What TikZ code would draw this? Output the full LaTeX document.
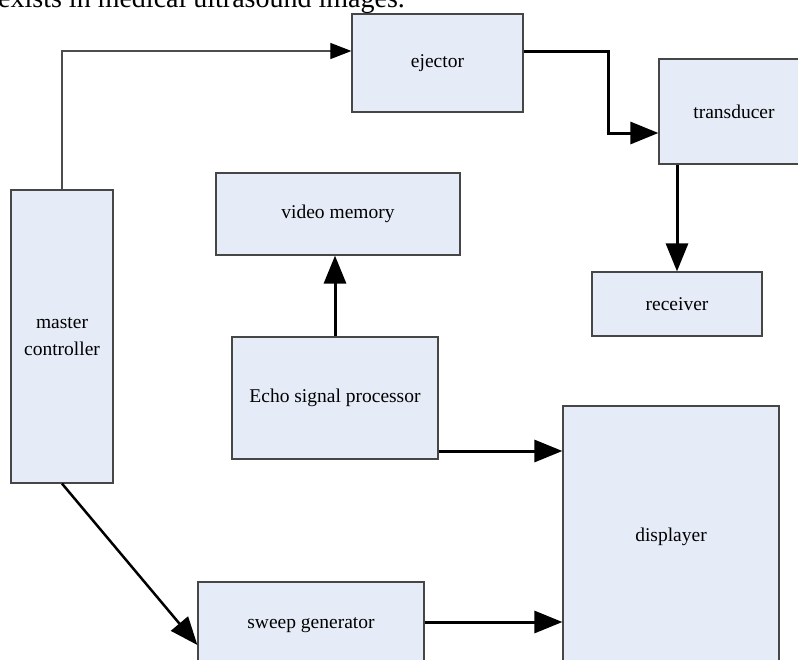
\documentclass[tikz,border=0pt]{standalone}
\usepackage{fontspec}
\setmainfont{Liberation Serif}
\usetikzlibrary{arrows.meta}
\definecolor{boxfill}{RGB}{230,236,247}
\definecolor{boxline}{RGB}{70,70,70}
\tikzset{
  blk/.style={draw=boxline, line width=1.2pt, fill=boxfill, inner sep=0pt,
    font=\fontsize{19.5}{27}\selectfont, align=center},
  thinarrow/.style={draw=black!70, line width=1.1pt, -{Triangle[length=21pt,width=16pt,color=black]}},
  thickarrow/.style={draw=black, line width=3pt, -{Triangle[length=28pt,width=22pt]}}
}
\begin{document}
\begin{tikzpicture}[x=1pt,y=-1pt]
\useasboundingbox (0,0) rectangle (798,659);
\clip (0,0) rectangle (798,659);
\node[anchor=base west, font=\fontsize{28}{32}\selectfont, inner sep=0pt] (top) at (-2,7) {exists in medical ultrasound images.};
\node[blk, minimum width=171pt, minimum height=98pt] (ej) at (437.5,63) {ejector};
\node[blk, minimum width=150pt, minimum height=105pt] (tr) at (734,111.5) {transducer};
\node[blk, minimum width=244pt, minimum height=82pt] (vm) at (338,214) {video memory};
\node[blk, minimum width=170pt, minimum height=64pt] (rc) at (677,304) {receiver};
\node[blk, minimum width=102pt, minimum height=293pt] (mc) at (62,336.5) {master\\controller};
\node[blk, minimum width=206pt, minimum height=122pt] (ep) at (335,398) {Echo signal processor};
\node[blk, minimum width=216pt, minimum height=262pt] (dp) at (671,537) {displayer};
\node[blk, minimum width=226pt, minimum height=86pt] (sg) at (311,625) {sweep generator};
% connectors
\draw[thinarrow] (mc.north) |- ([yshift=12pt]ej.west);
\draw[thickarrow] ([yshift=12pt]ej.east) -- ++(85,0) |- ([yshift=-21.5pt]tr.west);
\draw[thickarrow] (rc.north |- tr.south) -- (rc.north);
\draw[thickarrow] (ep.north) -- (ep.north |- vm.south);
\draw[thickarrow] ([yshift=-53pt]ep.east) -- ([yshift=-53pt]ep.east -| dp.west);
\draw[thickarrow] ([yshift=3pt]sg.east) -- ([yshift=3pt]sg.east -| dp.west);
\draw[thickarrow, line width=2.5pt] (mc.south) -- ([yshift=-20pt]sg.west);
\end{tikzpicture}
\end{document}
